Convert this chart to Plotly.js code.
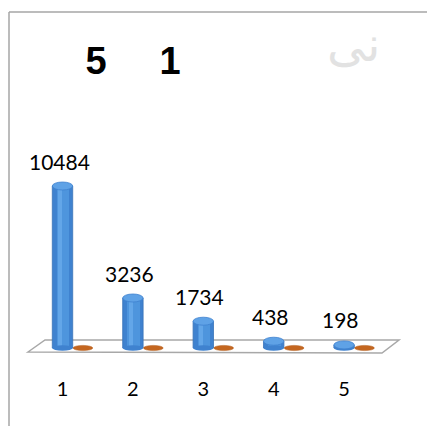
<!DOCTYPE html>
<html>
<head>
<meta charset="utf-8">
<script src="https://cdn.plot.ly/plotly-3.0.1.min.js"></script>
<style>html,body{margin:0;padding:0;background:#fff;}#chart{width:427px;height:426px;}</style>
</head>
<body>
<div id="chart"></div>
<script>
// ---- data ----
const categories = [1, 2, 3, 4, 5];
const tickLabels = ["1", "2", "3", "4", "5"];
const seriesBlue = [10484, 3236, 1734, 438, 198];
const seriesOrange = [0, 0, 0, 0, 0];
const chartTitle = "5\u00A0\u00A0\u00A0\u00A0\u00A01";

// ---- geometry helpers (styles/positions, not data) ----
const W = 427, H = 426;
const plotBottom = 372;           // px of plot-area bottom
const pxPerX = 70.4, x1px = 62.5; // x=1 at 62.5 px
const baseY = 348, pxPerUnit = 0.01545;
const xLo = 1 - x1px / pxPerX, xHi = 1 + (W - x1px) / pxPerX;
const unitsPerPx = 1 / pxPerUnit;
const yLo = -(plotBottom - baseY) * unitsPerPx, yHi = baseY * unitsPerPx;

const barW = 0.29, orangeOff = 0.29, orangeW = 0.28;
const capH = 4 * unitsPerPx, orangeH = 2.6 * unitsPerPx;

const traces = [
  { type: 'bar', x: categories, y: seriesBlue, width: barW,
    marker: { color: '#3f82cf', line: { color: '#3a74b8', width: 0.8 } },
    hoverinfo: 'x+y', showlegend: false },
  { type: 'bar', x: categories.map(c => c + 0.01), y: seriesBlue, width: barW * 0.6,
    marker: { color: '#4e95dd' }, hoverinfo: 'skip', showlegend: false },
  { type: 'bar', x: categories.map(c => c - 0.03), y: seriesBlue, width: barW * 0.2,
    marker: { color: '#63a6e8' }, hoverinfo: 'skip', showlegend: false },
  { type: 'bar', x: categories.map(c => c + orangeOff), y: seriesOrange, width: orangeW,
    marker: { color: '#c4661f' }, hoverinfo: 'x+y', showlegend: false }
];

const px2paperX = p => p / W;
const px2paperY = p => 1 - p / plotBottom;

const shapes = [];
// floor
const fl = [[28,352],[45,340],[399,340],[382,353]];
shapes.push({ type: 'path', xref: 'paper', yref: 'paper', layer: 'below',
  path: 'M' + fl.map(p => px2paperX(p[0]) + ',' + px2paperY(p[1])).join(' L') + ' Z',
  fillcolor: '#ffffff', line: { color: '#a8a8a8', width: 1.5 } });
// frame lines
shapes.push({ type: 'line', xref: 'paper', yref: 'paper', layer: 'below',
  x0: px2paperX(9), x1: px2paperX(427), y0: px2paperY(12), y1: px2paperY(12),
  line: { color: '#a6a6a6', width: 1.5 } });
shapes.push({ type: 'line', xref: 'paper', yref: 'paper', layer: 'below',
  x0: px2paperX(9), x1: px2paperX(9), y0: px2paperY(12), y1: px2paperY(426),
  line: { color: '#a6a6a6', width: 1.5 } });
// cylinder bottoms & tops
categories.forEach((c, i) => {
  shapes.push({ type: 'circle', xref: 'x', yref: 'y', layer: 'above',
    x0: c - barW / 2, x1: c + barW / 2, y0: -capH * 0.7, y1: capH * 0.7,
    fillcolor: '#3f82cf', line: { width: 0 } });
  shapes.push({ type: 'circle', xref: 'x', yref: 'y', layer: 'above',
    x0: c - barW / 2, x1: c + barW / 2, y0: seriesBlue[i] - capH, y1: seriesBlue[i] + capH,
    fillcolor: '#5fa2e6', line: { color: '#3f82cf', width: 0.8 } });
  shapes.push({ type: 'circle', xref: 'x', yref: 'y', layer: 'above',
    x0: c + orangeOff - orangeW / 2, x1: c + orangeOff + orangeW / 2,
    y0: seriesOrange[i] - orangeH, y1: seriesOrange[i] + orangeH,
    fillcolor: '#c4661f', line: { color: '#b35a18', width: 0.5 } });
});

const annotations = categories.map((c, i) => ({
  x: c, y: seriesBlue[i], xref: 'x', yref: 'y', text: String(seriesBlue[i]),
  showarrow: false, xanchor: 'center', yanchor: 'middle', xshift: -3.5, yshift: 25,
  font: { family: 'Lato, "Open Sans", sans-serif', size: 21, color: '#000' }
}));
// faint watermark
annotations.push({ xref: 'paper', yref: 'paper', x: px2paperX(382), y: px2paperY(14),
  text: 'نی', showarrow: false,
  font: { family: 'DejaVu Sans', size: 48, color: '#e2e2e2' } });

const layout = {
  width: W, height: H,
  margin: { l: 0, r: 0, t: 0, b: H - plotBottom, pad: 0 },
  paper_bgcolor: '#ffffff', plot_bgcolor: 'rgba(0,0,0,0)',
  title: { text: chartTitle, xref: 'container', yref: 'container',
    x: 133 / W, xanchor: 'center', y: 1 - 61 / H, yanchor: 'middle',
    font: { family: '"Liberation Sans", Arial, sans-serif', size: 38, color: '#000', weight: 'bold' } },
  xaxis: { range: [xLo, xHi], tickvals: categories, ticktext: tickLabels,
    showgrid: false, zeroline: false, showline: false, ticks: '', ticklabelstandoff: 3,
    tickfont: { family: 'Lato, "Open Sans", sans-serif', size: 20, color: '#000' }, fixedrange: true },
  yaxis: { range: [yLo, yHi], visible: false, showgrid: false, zeroline: false, fixedrange: true },
  barmode: 'overlay', bargap: 0,
  shapes: shapes, annotations: annotations, showlegend: false
};

Plotly.newPlot('chart', traces, layout, { displayModeBar: false, staticPlot: true });
</script>
</body>
</html>
